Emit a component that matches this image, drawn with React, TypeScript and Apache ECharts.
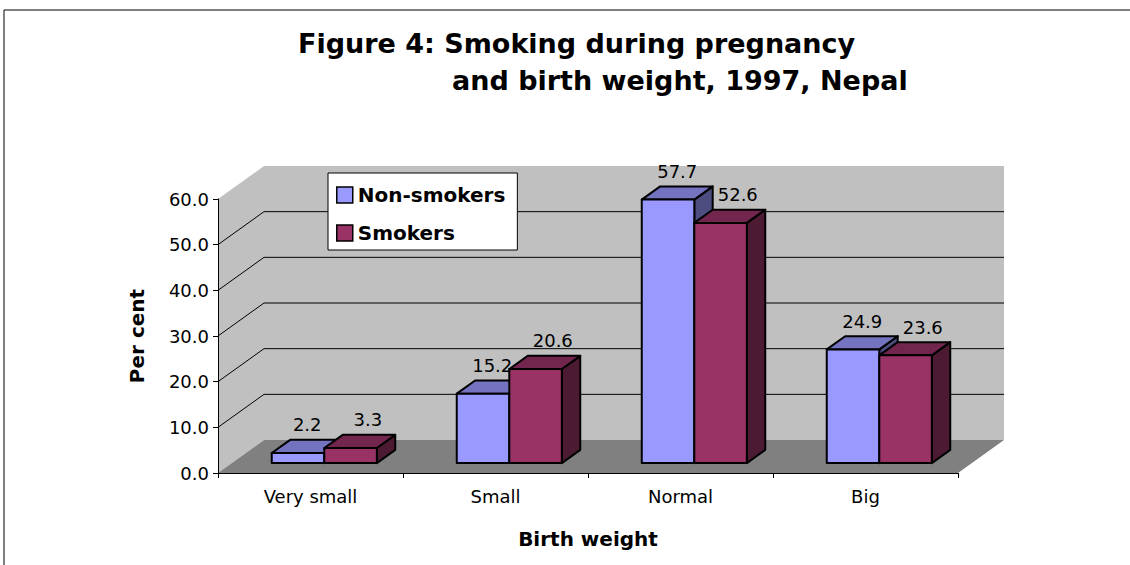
import React, { useEffect, useRef } from 'react';
import * as echarts from 'echarts';

const categories = ['Very small', 'Small', 'Normal', 'Big'];
const nonSmokers = [2.2, 15.2, 57.7, 24.9];
const smokers = [3.3, 20.6, 52.6, 23.6];
const seriesNames = ['Non-smokers', 'Smokers'];
const gridValues = [10, 20, 30, 40, 50];
const titleLine1 = 'Figure 4: Smoking during pregnancy';
const titleLine2 = 'and birth weight, 1997, Nepal';

const FONT = '"DejaVu Sans", Arial, sans-serif';
const DEPTH_X = 46;
const DEPTH_Y = -33;
const BAR_F0 = 0.3;
const BAR_F1 = 0.7;
const BAR_RATIO = 0.284;
const COLORS = [
  { front: '#9999FF', top: '#7373BF', side: '#4D4D80' },
  { front: '#993366', top: '#73264D', side: '#4D1A33' },
];
const LABEL_SHIFT = [0, 8];

function barRender(si: number) {
  return (params: any, api: any) => {
    const cat = api.value(0);
    const v = api.value(1);
    const base = api.coord([cat, 0]);
    const top = api.coord([cat, v]);
    const band = api.size([1, 0])[0];
    const bw = band * BAR_RATIO;
    const ox = DEPTH_X * BAR_F0;
    const oy = DEPTH_Y * BAR_F0;
    const dx = DEPTH_X * (BAR_F1 - BAR_F0);
    const dy = DEPTH_Y * (BAR_F1 - BAR_F0);
    const x0 = base[0] + ox + (si === 0 ? -bw : 0);
    const x1 = x0 + bw;
    const yb = base[1] + oy;
    const yt = top[1] + oy;
    const c = COLORS[si];
    const stroke = { stroke: '#000', lineWidth: 2, lineJoin: 'round' };
    return {
      type: 'group',
      children: [
        {
          type: 'polygon',
          shape: { points: [[x1, yt], [x1 + dx, yt + dy], [x1 + dx, yb + dy], [x1, yb]] },
          style: { fill: c.side, ...stroke },
        },
        {
          type: 'polygon',
          shape: { points: [[x0, yt], [x1, yt], [x1 + dx, yt + dy], [x0 + dx, yt + dy]] },
          style: { fill: c.top, ...stroke },
        },
        {
          type: 'rect',
          shape: { x: x0, y: yt, width: bw, height: yb - yt },
          style: { fill: c.front, ...stroke },
        },
        {
          type: 'text',
          x: (x0 + x1) / 2 + dx / 2 + LABEL_SHIFT[si],
          y: yt + dy - 15,
          style: {
            text: Number(v).toFixed(1),
            fill: '#000',
            fontSize: 18,
            fontFamily: FONT,
            align: 'center',
            verticalAlign: 'middle',
          },
        },
      ],
    };
  };
}

function wallRender(params: any, api: any) {
  const cs = params.coordSys;
  const L = cs.x;
  const R = cs.x + cs.width;
  const T = cs.y;
  const B = cs.y + cs.height;
  const children: any[] = [
    {
      type: 'polygon',
      shape: { points: [[L, T], [L + DEPTH_X, T + DEPTH_Y], [L + DEPTH_X, B + DEPTH_Y], [L, B]] },
      style: { fill: '#C0C0C0' },
    },
    {
      type: 'rect',
      shape: { x: L + DEPTH_X, y: T + DEPTH_Y, width: R - L, height: B - T },
      style: { fill: '#C0C0C0' },
    },
    {
      type: 'polygon',
      shape: { points: [[L, B], [L + DEPTH_X, B + DEPTH_Y], [R + DEPTH_X, B + DEPTH_Y], [R, B]] },
      style: { fill: '#808080' },
    },
  ];
  gridValues.forEach((g) => {
    const y = api.coord([0, g])[1];
    children.push({
      type: 'line',
      shape: { x1: L, y1: y, x2: L + DEPTH_X, y2: y + DEPTH_Y },
      style: { stroke: '#000', lineWidth: 1 },
    });
    children.push({
      type: 'line',
      shape: { x1: L + DEPTH_X, y1: y + DEPTH_Y, x2: R + DEPTH_X, y2: y + DEPTH_Y },
      style: { stroke: '#000', lineWidth: 1 },
    });
  });
  return { type: 'group', children };
}

export default function App() {
  const ref = useRef<HTMLDivElement>(null);
  useEffect(() => {
    document.body.style.margin = '0';
    const chart = echarts.init(ref.current!, null, { renderer: 'svg' });
    chart.setOption({
      animation: false,
      backgroundColor: '#fff',
      title: [
        {
          text: titleLine1,
          left: 298,
          top: 30,
          padding: 0,
          textStyle: { fontSize: 27, fontWeight: 'bold', fontFamily: FONT, color: '#000' },
        },
        {
          text: titleLine2,
          left: 452,
          top: 67,
          padding: 0,
          textStyle: { fontSize: 27, fontWeight: 'bold', fontFamily: FONT, color: '#000' },
        },
      ],
      legend: {
        orient: 'vertical',
        left: 328,
        top: 173,
        padding: [12, 12, 7, 8],
        itemWidth: 16,
        itemHeight: 16,
        itemGap: 18,
        backgroundColor: '#fff',
        borderColor: '#000',
        borderWidth: 1,
        z: 20,
        textStyle: { fontSize: 20, fontWeight: 'bold', fontFamily: FONT, color: '#000' },
        data: seriesNames.map((n, i) => ({
          name: n,
          icon: 'rect',
          itemStyle: { color: COLORS[i].front, borderColor: '#000', borderWidth: 1.5 },
        })),
      },
      grid: { left: 218, right: 172, top: 199, bottom: 92 },
      xAxis: {
        type: 'category',
        data: categories,
        z: 10,
        boundaryGap: true,
        axisLine: { lineStyle: { color: '#000', width: 1 } },
        axisTick: { show: true, length: 5, lineStyle: { color: '#000' } },
        axisLabel: { fontSize: 18, fontFamily: FONT, color: '#000', margin: 14 },
        name: 'Birth weight',
        nameLocation: 'middle',
        nameGap: 56,
        nameTextStyle: { fontSize: 20, fontWeight: 'bold', fontFamily: FONT, color: '#000' },
        splitLine: { show: false },
      },
      yAxis: {
        type: 'value',
        min: 0,
        max: 60,
        interval: 10,
        z: 10,
        axisLine: { show: true, lineStyle: { color: '#000', width: 1 } },
        axisTick: { show: true, length: 5, lineStyle: { color: '#000' } },
        axisLabel: {
          fontSize: 18,
          fontFamily: FONT,
          color: '#000',
          margin: 9,
          formatter: (v: number) => v.toFixed(1),
        },
        splitLine: { show: false },
        name: 'Per cent',
        nameLocation: 'middle',
        nameRotate: 90,
        nameGap: 71,
        nameTextStyle: { fontSize: 20, fontWeight: 'bold', fontFamily: FONT, color: '#000' },
      },
      series: [
        {
          type: 'custom',
          name: 'walls',
          silent: true,
          z: 1,
          clip: false,
          renderItem: wallRender,
          data: [[0, 0]],
          encode: { x: 0, y: 1 },
        },
        {
          type: 'custom',
          name: seriesNames[0],
          z: 3,
          clip: false,
          itemStyle: { color: COLORS[0].front },
          renderItem: barRender(0),
          data: nonSmokers.map((v, i) => [i, v]),
          encode: { x: 0, y: 1 },
        },
        {
          type: 'custom',
          name: seriesNames[1],
          z: 4,
          clip: false,
          itemStyle: { color: COLORS[1].front },
          renderItem: barRender(1),
          data: smokers.map((v, i) => [i, v]),
          encode: { x: 0, y: 1 },
        },
      ],
      graphic: [
        {
          type: 'line',
          shape: { x1: 4, y1: 10, x2: 1130, y2: 10 },
          style: { stroke: '#000', lineWidth: 1 },
        },
        {
          type: 'line',
          shape: { x1: 4, y1: 10, x2: 4, y2: 565 },
          style: { stroke: '#000', lineWidth: 1 },
        },
      ],
    });
    return () => chart.dispose();
  }, []);
  return <div ref={ref} style={{ width: 1130, height: 565 }} />;
}
